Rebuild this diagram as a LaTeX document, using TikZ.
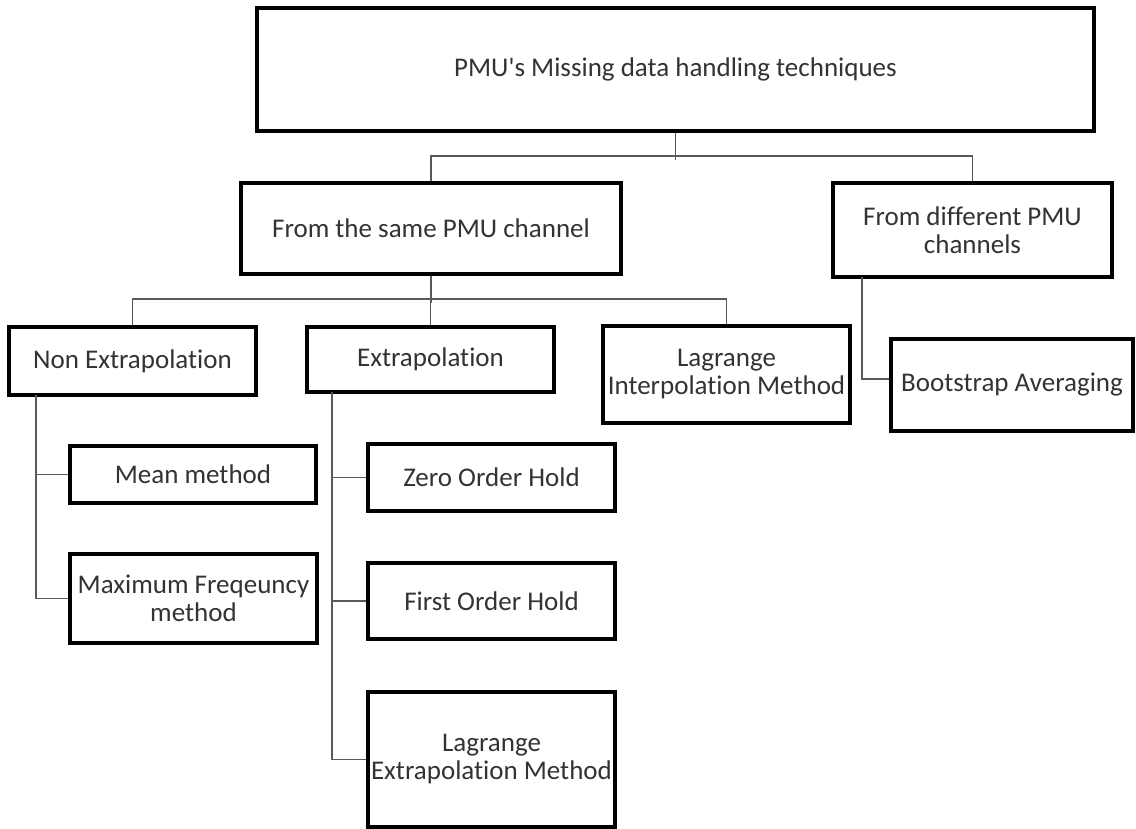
\documentclass[tikz,border=0pt]{standalone}
\usepackage{fontspec}
\setmainfont{Carlito}[Ligatures={TeXOff,NoCommon}]
\begin{document}
\begin{tikzpicture}[x=1pt,y=-1pt,
  box/.style={draw=black, line width=3.2pt, rectangle, inner sep=0pt, align=center,
    font=\fontsize{27}{28}\selectfont, text=black!80},
  conn/.style={draw=black!65, line width=1.8pt}]
\useasboundingbox[fill=white] (0,0) rectangle (1136,829);
% boxes
\node[box, minimum width=837pt, minimum height=123pt] (top) at (675.5,69.5) {PMU's Missing data handling techniques};
\node[box, minimum width=380pt, minimum height=91pt] (same) at (431,228.5) {From the same PMU channel};
\node[box, minimum width=279pt, minimum height=94pt] (diff) at (972.5,230) {From different PMU\\channels};
\node[box, minimum width=247pt, minimum height=68pt] (nonext) at (132.5,361) {Non Extrapolation};
\node[box, minimum width=247pt, minimum height=65pt] (ext) at (430.5,359.5) {Extrapolation};
\node[box, minimum width=247pt, minimum height=97pt] (interp) at (726.5,374.5) {Lagrange\\Interpolation Method};
\node[box, minimum width=242pt, minimum height=92pt] (boot) at (1012,385) {Bootstrap Averaging};
\node[box, minimum width=246pt, minimum height=57pt] (mean) at (193,474.5) {Mean method};
\node[box, minimum width=247pt, minimum height=89pt] (max) at (193.5,598.5) {Maximum Freqeuncy\\method};
\node[box, minimum width=247pt, minimum height=67pt] (zoh) at (491.5,477.5) {Zero Order Hold};
\node[box, minimum width=247pt, minimum height=76pt] (foh) at (491.5,601) {First Order Hold};
\node[box, minimum width=247pt, minimum height=135pt] (lem) at (491.5,759.5) {Lagrange\\Extrapolation Method};
% connectors
\draw[conn] (top.south) -- ++(0,27);
\draw[conn] (same.north) -- ++(0,-25) -| (diff.north);
\draw[conn] (same.south) -- ++(0,27);
\draw[conn] (nonext.north) -- ++(0,-26) -| (interp.north);
\draw[conn] (ext.north) -- ++(0,-26);
\coordinate (nx) at (36,395);
\draw[conn] (nx) |- (max.west);
\draw[conn] (mean.west) -- (mean.west -| nx);
\coordinate (ex) at (332,392);
\draw[conn] (ex) |- (lem.west);
\draw[conn] (zoh.west) -- (zoh.west -| ex);
\draw[conn] (foh.west) -- (foh.west -| ex);
\coordinate (dx) at (862,277);
\draw[conn] (dx) |- ([yshift=6pt]boot.west);
\end{tikzpicture}
\end{document}
